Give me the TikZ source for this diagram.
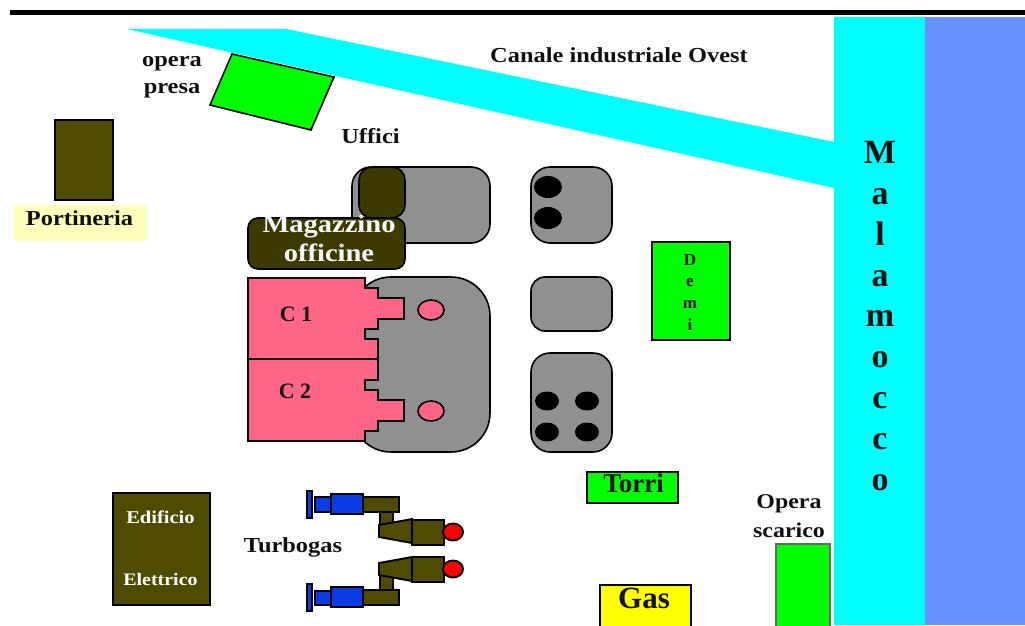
\documentclass[tikz,border=0pt]{standalone}
\usepackage{fontspec}
\setmainfont{Liberation Serif}
\newfontfamily\widefam{Liberation Serif}[FakeStretch=1.14]
\definecolor{grey1}{HTML}{909090}
\definecolor{olive1}{HTML}{4F4B00}
\definecolor{olive2}{HTML}{3D3A00}
\definecolor{pink1}{HTML}{FF6685}
\definecolor{cyan1}{HTML}{00FFFF}
\definecolor{blue1}{HTML}{6690FF}
\definecolor{blue2}{HTML}{0A3CE6}
\definecolor{green1}{HTML}{00FF00}
\definecolor{yel1}{HTML}{FFFF00}
\definecolor{pale}{HTML}{FFFFBB}
\definecolor{txt}{HTML}{101010}
\tikzset{
  x=1pt,y=-1pt,
  ln/.style={draw=black,line width=1.6pt,line join=miter},
  thk/.style={draw=black,line width=1.9pt,line join=miter},
  greybox/.style={ln,fill=grey1},
  olive/.style={ln,fill=olive1},
  lab/.style={text=txt,inner sep=0pt,align=center},
  wsm/.style={lab,font=\widefam\bfseries\fontsize{21.4}{27}\selectfont},
}
\begin{document}
\begin{tikzpicture}
\useasboundingbox (0,0) rectangle (1025,625);
% water
\fill[blue1] (925,17) rectangle (1025,625);
\fill[cyan1] (834,17) rectangle (925,625);
\fill[cyan1] (127,29) -- (286,29) -- (834,142) -- (834,188) -- cycle;
\fill[black] (10,10) rectangle (1025,15);
% intake
\draw[ln,fill=green1] (232,54) -- (334,77) -- (311,130) -- (210,105) -- cycle;
\node[wsm] (opera) at (172,77.5) {opera\\presa};
% gate
\draw[olive] (55,120) rectangle (113,200);
\fill[pale] (14,205) rectangle (147,241);
\node[wsm] (port) at (79.5,218) {Portineria};
% canal label
\node[wsm] (canale) at (619,55) {Canale industriale Ovest};
\node[wsm] (uffici) at (370.5,136) {Uffici};
% offices
\draw[greybox,rounded corners=19pt] (352,167) rectangle (490,243);
\draw[ln,fill=olive2,rounded corners=10pt] (248,218) rectangle (405,269);
\node[lab,text=white,font=\widefam\bfseries\fontsize{25}{29}\selectfont] (mag) at (329,238) {Magazzino\\officine};
\draw[ln,fill=olive2,rounded corners=13pt] (359,167) rectangle (405,218);
% plant
\draw[greybox,rounded corners=39pt] (352,277) rectangle (490,452);
\draw[ln,fill=pink1] (248,278) -- (365,278) -- (365,288) -- (378,288) -- (378,298) -- (404,298) -- (404,319) -- (378,319) -- (378,329) -- (365,329) -- (365,339) -- (378,339) -- (378,359) -- (248,359) -- cycle;
\draw[ln,fill=pink1] (248,359) -- (378,359) -- (378,380) -- (365,380) -- (365,390) -- (378,390) -- (378,400) -- (404,400) -- (404,421) -- (378,421) -- (378,431) -- (365,431) -- (365,441) -- (248,441) -- cycle;
\draw[ln,fill=pink1] (431,310) ellipse (13 and 10);
\draw[ln,fill=pink1] (431,411) ellipse (13 and 10);
\node[lab,font=\bfseries\fontsize{22}{26}\selectfont] (c1) at (296,314) {C 1};
\node[lab,font=\bfseries\fontsize{22}{26}\selectfont] (c2) at (295,391) {C 2};
% tanks
\draw[greybox,rounded corners=19pt] (531,167) rectangle (612,243);
\fill (548,187) ellipse (14 and 11);
\fill (548,218) ellipse (14 and 11);
\draw[greybox,rounded corners=14pt] (531,277) rectangle (612,331);
\draw[greybox,rounded corners=19pt] (531,353) rectangle (612,452);
\fill (547,401) ellipse (12 and 9.5);
\fill (587,401) ellipse (12 and 9.5);
\fill (547,432) ellipse (12 and 9.5);
\fill (587,432) ellipse (12 and 9.5);
% demi
\draw[ln,fill=green1] (652,242) rectangle (730,340);
\node[lab,font=\bfseries\fontsize{17}{21.7}\selectfont] (demi) at (690,292) {D\\e\\m\\i};
% malamocco
\node[lab,font=\bfseries\fontsize{34}{40.8}\selectfont] (mala) at (880,316) {M\\a\\l\\a\\m\\o\\c\\c\\o};
% torri, gas
\draw[ln,fill=green1] (587,472) rectangle (678,503);
\node[lab,font=\bfseries\fontsize{27}{30}\selectfont] (torri) at (633.5,483) {Torri};
\draw[ln,fill=yel1] (600,585) rectangle (691,629);
\node[lab,font=\bfseries\fontsize{31}{36}\selectfont] (gas) at (644,598) {Gas};
% scarico
\draw[ln,draw=black!60,fill=green1] (776,544) rectangle (830,629);
\node[wsm,font=\widefam\bfseries\fontsize{21}{29}\selectfont] (scar) at (789,516) {Opera\\scarico};
% edificio
\draw[olive] (113,493) rectangle (210,605);
\node[lab,text=white,font=\widefam\bfseries\fontsize{18}{21}\selectfont] (edi) at (160.5,517) {Edificio};
\node[lab,text=white,font=\widefam\bfseries\fontsize{17.5}{21}\selectfont] (ele) at (160.5,580) {Elettrico};
\node[wsm] (turbo) at (293,547) {Turbogas};
% turbine top
\draw[thk,fill=blue2] (307,491) rectangle (312,518);
\draw[thk,fill=blue2] (315,497) rectangle (331,512);
\draw[thk,fill=olive1] (363,497) rectangle (399,512);
\draw[thk,fill=olive1] (380,512) rectangle (393,525);
\draw[thk,fill=blue2] (331,494) rectangle (363,514);
\draw[thk,fill=olive1] (379,525) -- (412,519) -- (412,543) -- (379,537) -- cycle;
\draw[thk,fill=olive1] (412,520) rectangle (444,545);
\draw[thk,fill=red] (453,532) ellipse (10 and 8.5);
% turbine bottom
\draw[thk,fill=blue2] (307,584) rectangle (312,611);
\draw[thk,fill=blue2] (315,591) rectangle (331,605);
\draw[thk,fill=olive1] (363,590) rectangle (399,605);
\draw[thk,fill=olive1] (380,575) rectangle (393,590);
\draw[thk,fill=blue2] (331,587) rectangle (363,607);
\draw[thk,fill=olive1] (379,563) -- (412,557) -- (412,581) -- (379,575) -- cycle;
\draw[thk,fill=olive1] (412,557) rectangle (444,582);
\draw[thk,fill=red] (453,569) ellipse (10 and 8.5);
\end{tikzpicture}
\end{document}
